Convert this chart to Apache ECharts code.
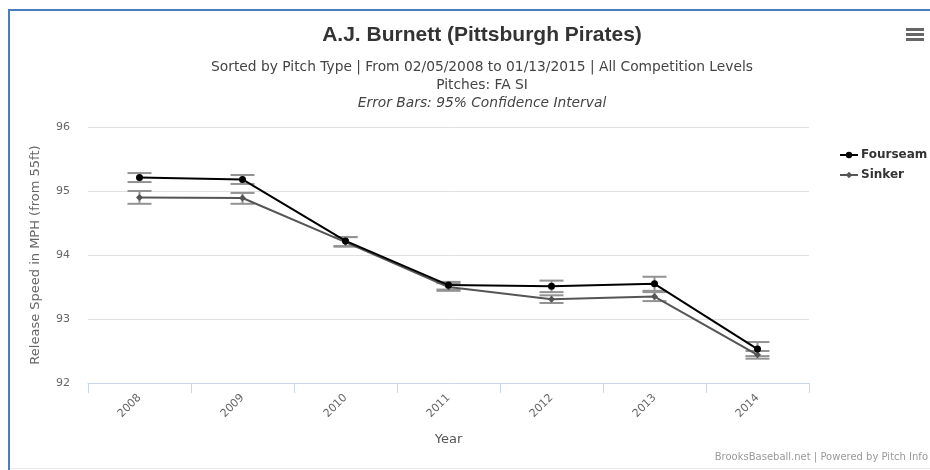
<!DOCTYPE html>
<html>
<head>
<meta charset="utf-8">
<script src="https://cdn.jsdelivr.net/npm/echarts@6/dist/echarts.min.js"></script>
<style>html,body{margin:0;padding:0;background:#fff}#c{width:930px;height:470px}</style>
</head>
<body>
<div id="c"></div>
<script>
var years = ['2008','2009','2010','2011','2012','2013','2014'];
var fourseam = [95.21, 95.18, 94.22, 93.53, 93.51, 93.55, 92.53];
var sinker = [94.90, 94.89, 94.20, 93.50, 93.31, 93.35, 92.44];
var fourseamLow = [95.14, 95.11, 94.14, 93.46, 93.42, 93.44, 92.42];
var fourseamHigh = [95.28, 95.25, 94.28, 93.58, 93.60, 93.66, 92.64];
var sinkerLow = [94.80, 94.80, 94.13, 93.44, 93.25, 93.28, 92.38];
var sinkerHigh = [95.00, 94.97, 94.28, 93.56, 93.37, 93.42, 92.50];
var yTicks = [92, 93, 94, 95, 96];

var FONT = 'DejaVu Sans, Verdana, sans-serif';
var TFONT = 'Liberation Sans, Arial, sans-serif';

function errData(lo, hi) {
  return lo.map(function (v, i) { return [i, v, hi[i]]; });
}
function errRender(params, api) {
  var i = api.value(0);
  var lo = api.coord([i, api.value(1)]);
  var hi = api.coord([i, api.value(2)]);
  var hw = 12;
  var st = { stroke: '#939393', lineWidth: 2 };
  return {
    type: 'group',
    children: [
      { type: 'line', shape: { x1: hi[0], y1: hi[1], x2: lo[0], y2: lo[1] }, style: st },
      { type: 'line', shape: { x1: hi[0] - hw, y1: hi[1], x2: hi[0] + hw, y2: hi[1] }, style: st },
      { type: 'line', shape: { x1: lo[0] - hw, y1: lo[1], x2: lo[0] + hw, y2: lo[1] }, style: st }
    ]
  };
}

var chart = echarts.init(document.getElementById('c'), null, { renderer: 'canvas' });
chart.setOption({
  animation: false,
  backgroundColor: '#fff',
  textStyle: { fontFamily: FONT },
  graphic: [
    { type: 'rect', shape: { x: 8, y: 9, width: 930, height: 2 }, style: { fill: '#4a7cc0' }, silent: true },
    { type: 'rect', shape: { x: 8, y: 9, width: 2, height: 470 }, style: { fill: '#4a7cc0' }, silent: true },
    { type: 'rect', shape: { x: 10, y: 468, width: 930, height: 1 }, style: { fill: '#e8e8e8' }, silent: true },
    { type: 'rect', shape: { x: 906, y: 28, width: 18, height: 3 }, style: { fill: '#666' } },
    { type: 'rect', shape: { x: 906, y: 33, width: 18, height: 3 }, style: { fill: '#666' } },
    { type: 'rect', shape: { x: 906, y: 38, width: 18, height: 3 }, style: { fill: '#666' } },
    { type: 'text', right: 2, top: 452, style: { text: 'BrooksBaseball.net | Powered by Pitch Info', font: '10px ' + FONT, fill: '#999' } }
  ],
  title: [
    { text: 'A.J. Burnett (Pittsburgh Pirates)', left: 477, top: 20, textAlign: 'center',
      textStyle: { fontSize: 21, fontWeight: 'bold', color: '#333', fontFamily: TFONT } },
    { text: 'Sorted by Pitch Type | From 02/05/2008 to 01/13/2015 | All Competition Levels\nPitches: FA SI',
      left: 477, top: 53, textAlign: 'center',
      textStyle: { fontSize: 13.8, fontWeight: 'normal', color: '#444', lineHeight: 18, fontFamily: FONT } },
    { text: 'Error Bars: 95% Confidence Interval', left: 477, top: 91, textAlign: 'center',
      textStyle: { fontSize: 13.8, fontWeight: 'normal', fontStyle: 'italic', color: '#444', fontFamily: FONT } }
  ],
  legend: {
    orient: 'vertical', left: 834, top: 144, itemGap: 8, itemWidth: 18, itemHeight: 8,
    data: ['Fourseam', 'Sinker'],
    textStyle: { fontSize: 12, fontWeight: 'bold', color: '#333', fontFamily: FONT, padding: [0, 0, 0, -2] }
  },
  grid: { left: 88, right: 121, top: 127, bottom: 87, containLabel: false },
  xAxis: {
    type: 'category', data: years, boundaryGap: true,
    name: 'Year', nameLocation: 'middle', nameGap: 50,
    nameTextStyle: { fontSize: 13, color: '#555' },
    axisLine: { lineStyle: { color: '#ccd6eb', width: 1 } },
    axisTick: { show: true, length: 10, lineStyle: { color: '#ccd6eb' } },
    axisLabel: { rotate: 45, color: '#666', fontSize: 11, margin: 13 },
    splitLine: { show: false }
  },
  yAxis: {
    type: 'value', min: yTicks[0], max: yTicks[yTicks.length - 1], interval: 1,
    name: 'Release Speed in MPH (from 55ft)', nameLocation: 'middle', nameGap: 46,
    nameTextStyle: { fontSize: 13, color: '#666' },
    axisLine: { show: false }, axisTick: { show: false },
    axisLabel: { color: '#666', fontSize: 11, margin: 18 },
    splitLine: { lineStyle: { color: '#e0e0e0', width: 1 } }
  },
  series: [
    { name: 'SinkerErr', type: 'custom', renderItem: errRender, data: errData(sinkerLow, sinkerHigh), z: 1, silent: true },
    { name: 'FourseamErr', type: 'custom', renderItem: errRender, data: errData(fourseamLow, fourseamHigh), z: 1, silent: true },
    { name: 'Sinker', type: 'line', data: sinker, symbol: 'diamond', symbolSize: 7, z: 3,
      itemStyle: { color: '#555' }, lineStyle: { color: '#555', width: 2 } },
    { name: 'Fourseam', type: 'line', data: fourseam, symbol: 'circle', symbolSize: 7, z: 4,
      itemStyle: { color: '#000' }, lineStyle: { color: '#000', width: 2 } }
  ]
});
</script>
</body>
</html>
